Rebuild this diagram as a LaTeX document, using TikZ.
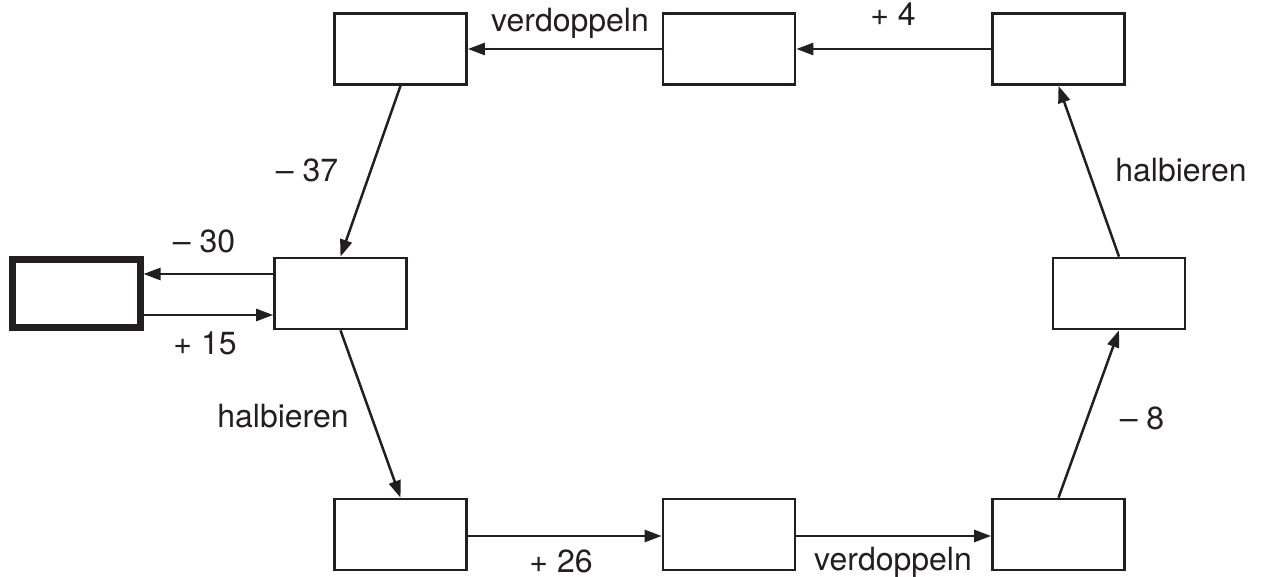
\documentclass[tikz,border=0pt]{standalone}
\usepackage{fontspec}
\setmainfont{TeX Gyre Heros}
\usetikzlibrary{arrows.meta}
\definecolor{ink}{HTML}{231F20}
\begin{document}
\begin{tikzpicture}[x=1pt,y=-1pt,
  box/.style={draw=ink,line width=2.7pt,minimum width=132pt,minimum height=71pt,inner sep=0pt},
  goal/.style={draw=ink,line width=7pt,minimum width=128pt,minimum height=68pt,inner sep=0pt},
  conn/.style={draw=ink,line width=2.5pt,-{Triangle[length=17pt,width=12pt]}},
  lbl/.style={text=ink,anchor=base,inner sep=0pt,font=\fontsize{32}{38}\selectfont}]
\useasboundingbox (0,0) rectangle (1262,577);
\node[box] (tl) at (400.5,49) {};
\node[box] (tm) at (729,49) {};
\node[box] (tr) at (1058.5,49) {};
\node[box] (ml) at (340.5,293.5) {};
\node[goal] (g) at (76,293.5) {};
\node[box] (mr) at (1119,293.5) {};
\node[box] (bl) at (400.5,534.5) {};
\node[box] (bm) at (729,534.5) {};
\node[box] (br) at (1058.5,534.5) {};
\draw[conn] (tr.west) -- (tm.east);
\draw[conn] (tm.west) -- (tl.east);
\draw[conn] (tl.south) -- (ml.north);
\draw[conn] ([yshift=19.5pt]ml.west) -- ([yshift=19.5pt]g.east);
\draw[conn] ([yshift=-21.5pt]g.east) -- ([yshift=-21.5pt]ml.west);
\draw[conn] (ml.south) -- (bl.north);
\draw[conn] ([yshift=-1.5pt]bl.east) -- ([yshift=-1.5pt]bm.west);
\draw[conn] ([yshift=-1.5pt]bm.east) -- ([yshift=-1.5pt]br.west);
\draw[conn] (br.north) -- (mr.south);
\draw[conn] (mr.north) -- (tr.south);
\node[lbl] (l1) at (570,32) {verdoppeln};
\node[lbl] (l2) at (893,26) {+ 4};
\node[lbl] (l3) at (307,182) {– 37};
\node[lbl] (l4) at (1181,182) {halbieren};
\node[lbl] (l5) at (204,253) {– 30};
\node[lbl] (l6) at (205,355) {+ 15};
\node[lbl] (l7) at (283,428) {halbieren};
\node[lbl] (l8) at (561,572) {+ 26};
\node[lbl] (l9) at (893,570) {verdoppeln};
\node[lbl] (l10) at (1142,430) {– 8};
\end{tikzpicture}
\end{document}
